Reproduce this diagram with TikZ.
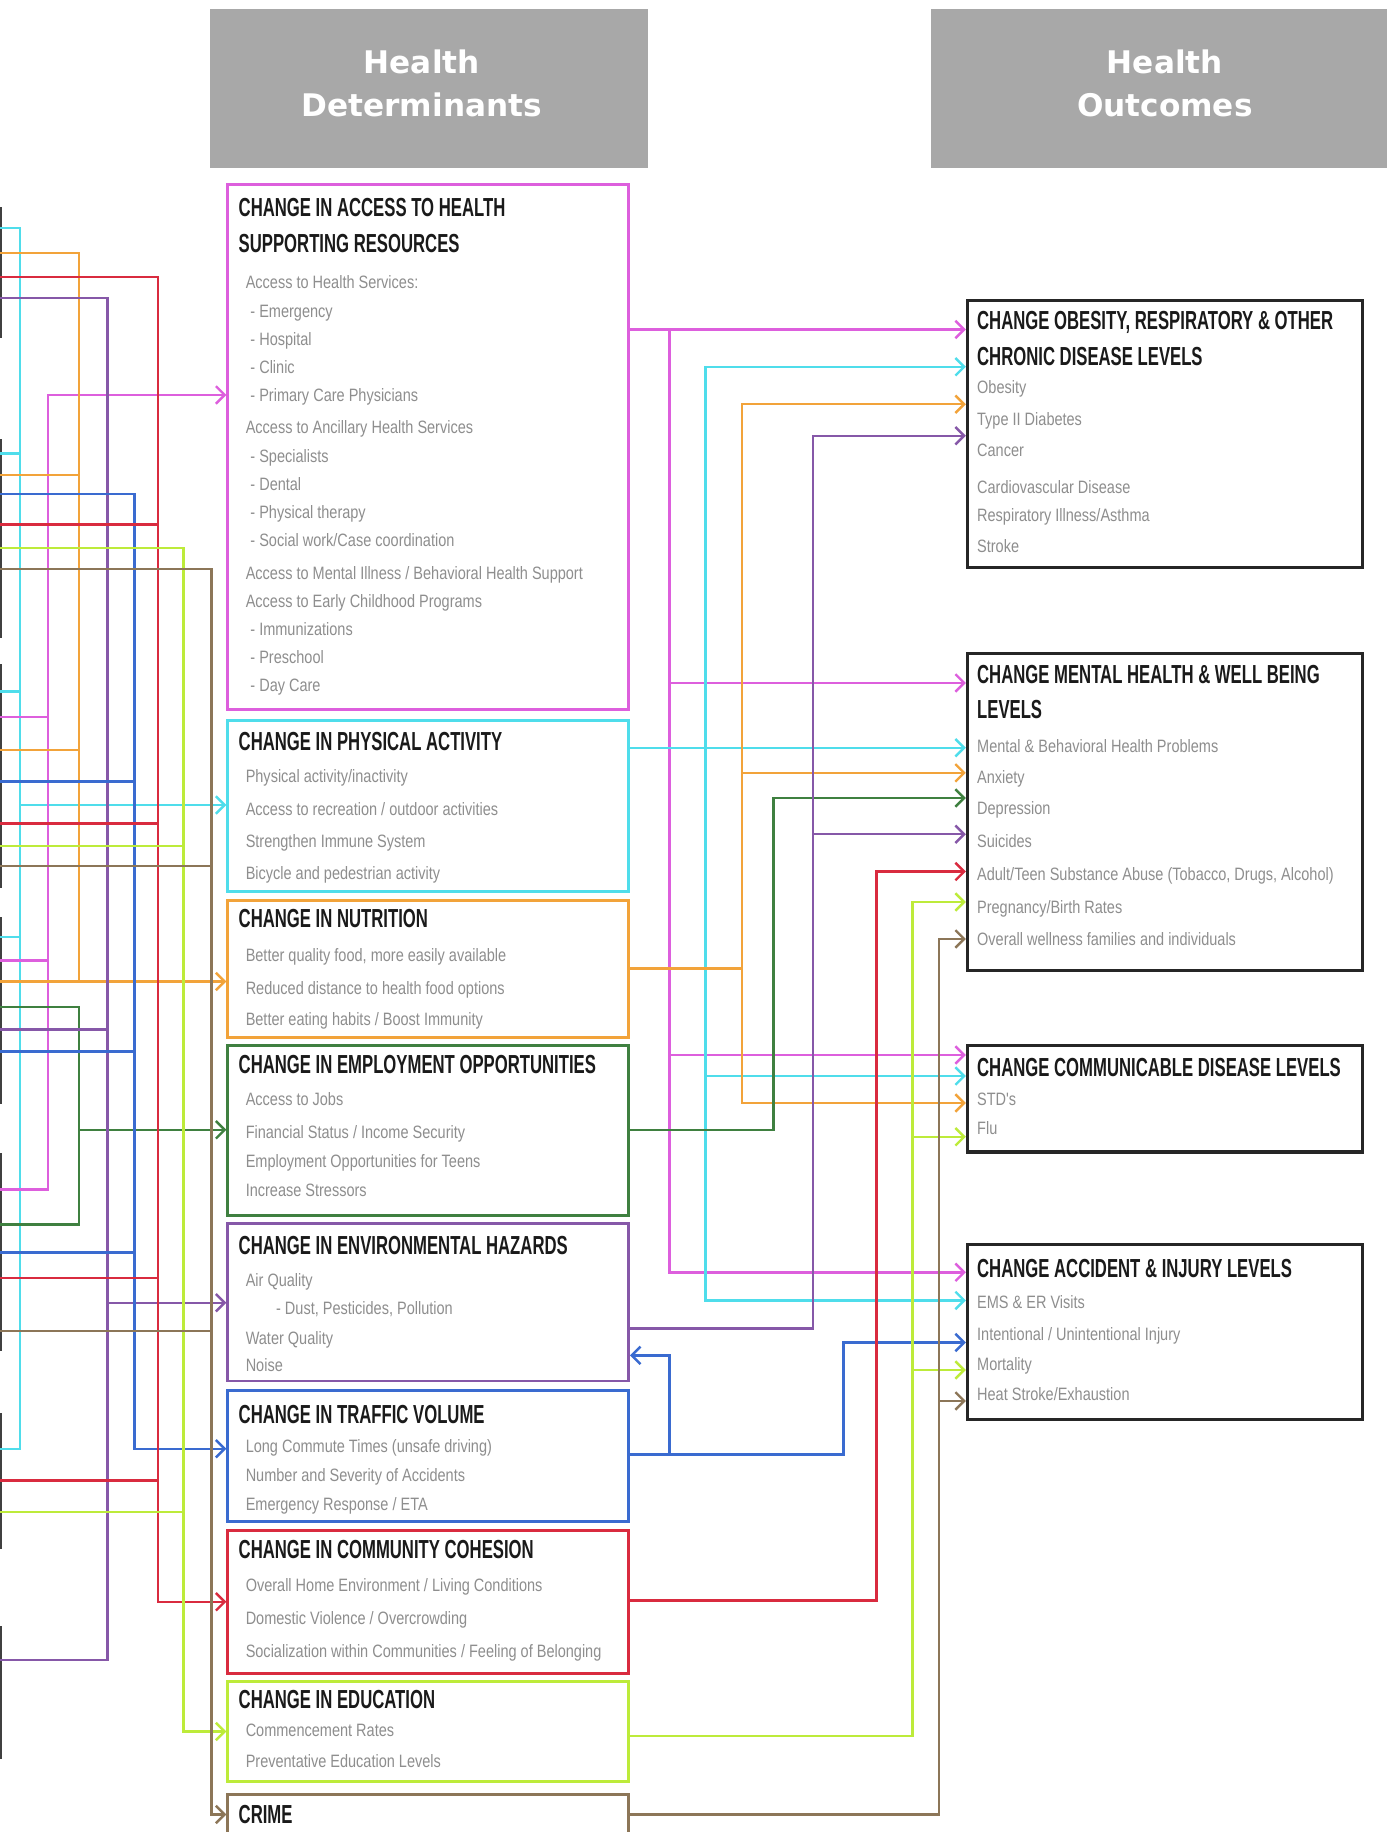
\documentclass[tikz,border=0pt]{standalone}
\usepackage{fontspec}
\setmainfont{Liberation Sans}
\newfontfamily\hdrfont{DejaVu Sans}
\newfontfamily\ttlfont[FakeStretch=0.64]{Liberation Sans}
\newfontfamily\itmfont[FakeStretch=0.81]{Liberation Sans}
\usetikzlibrary{arrows.meta,fit}
\definecolor{pinkc}{HTML}{DD5FDD}
\definecolor{cyanc}{HTML}{4FDDEB}
\definecolor{orangec}{HTML}{F2A33A}
\definecolor{greenc}{HTML}{3F8040}
\definecolor{purplec}{HTML}{8658A8}
\definecolor{bluec}{HTML}{3A6BD0}
\definecolor{redc}{HTML}{D92B3F}
\definecolor{ygc}{HTML}{BDEB3A}
\definecolor{brownc}{HTML}{8C7658}
\definecolor{hdrc}{HTML}{A8A8A8}
\definecolor{ttlc}{HTML}{1A1A1A}
\definecolor{itmc}{HTML}{8E8E8E}
\begin{document}
\begin{tikzpicture}[x=0.6pt,y=-0.6pt,
  dbox/.style={draw=#1, line width=1.5pt, inner sep=0pt, minimum size=0pt},
  obox/.style={draw=black!85, line width=1.6pt, inner sep=0pt, minimum size=0pt},
  lbox/.style={draw=black!75, line width=1.1pt, inner sep=0pt, minimum size=0pt},
  hdr/.style={fill=hdrc, draw=none, inner sep=0pt, minimum size=0pt},
  hdrtxt/.style={font=\hdrfont\bfseries\fontsize{16}{22.2}\selectfont, text=white, align=center, inner sep=0pt},
  ttl/.style={font=\ttlfont\bfseries\fontsize{13.4}{14}\selectfont, text=ttlc, anchor=base west, inner sep=0pt},
  itm/.style={font=\itmfont\fontsize{9.2}{10}\selectfont, text=itmc, anchor=base west, inner sep=0pt},
  wire/.style={draw=#1, line width=1.25pt},
  arrowend/.style={-{Straight Barb[length=4.5pt,width=9pt]}},
]
\useasboundingbox (0,0) rectangle (1187,1568);
\fill[white] (0,0) rectangle (1187,1568);
\clip (0,0) rectangle (1187,1568);

% column headers
\node[hdr, fit={(180,8) (555,144)}] (hdet) {};
\node[hdr, fit={(797,8) (1200,144)}] (hout) {};
\node[hdrtxt] (hdet-t) at (361,71.5) {Health\\Determinants};
\node[hdrtxt] (hout-t) at (997,71.5) {Health\\Outcomes};

% boxes of the column further left (only their right edges show)
\foreach \ya/\yb [count=\k] in {178/288, 377/545, 569/759, 786/944, 988/1155, 1210/1325, 1393/1505}
  \node[lbox, fit={(-200,\ya) (0.9,\yb)}] (lb\k) {};

% determinant boxes
\node[dbox=pinkc,   fit={(195,158) (538,607)}]   (acc) {};
\node[dbox=cyanc,   fit={(195,617) (538,763)}]   (pa)  {};
\node[dbox=orangec, fit={(195,771) (538,888)}]   (nut) {};
\node[dbox=greenc,  fit={(195,895) (538,1040)}]  (emp) {};
\node[dbox=purplec, fit={(195,1047) (538,1182)}] (env) {};
\node[dbox=bluec,   fit={(195,1190) (538,1302)}] (trf) {};
\node[dbox=redc,    fit={(195,1310) (538,1432)}] (com) {};
\node[dbox=ygc,     fit={(195,1439) (538,1525)}] (edu) {};
\node[dbox=brownc,  fit={(195,1536) (538,1620)}] (crm) {};

% outcome boxes
\node[obox, fit={(828,257) (1166,486)}]  (ob1) {};
\node[obox, fit={(828,559) (1166,831)}]  (ob2) {};
\node[obox, fit={(828,895) (1166,986)}]  (ob3) {};
\node[obox, fit={(828,1065) (1166,1215)}] (ob4) {};

% box titles
\foreach \xx/\yy/\txt [count=\k] in {
  204/177/{CHANGE IN ACCESS TO HEALTH}, 204/208/{SUPPORTING RESOURCES},
  204/634/{CHANGE IN PHYSICAL ACTIVITY},
  204/786/{CHANGE IN NUTRITION},
  204/911/{CHANGE IN EMPLOYMENT OPPORTUNITIES},
  204/1066/{CHANGE IN ENVIRONMENTAL HAZARDS},
  204/1210/{CHANGE IN TRAFFIC VOLUME},
  204/1326/{CHANGE IN COMMUNITY COHESION},
  204/1454/{CHANGE IN EDUCATION},
  204/1553/{CRIME},
  836/274/{CHANGE OBESITY, RESPIRATORY \& OTHER}, 836/305/{CHRONIC DISEASE LEVELS},
  836/577/{CHANGE MENTAL HEALTH \& WELL BEING}, 836/607/{LEVELS},
  836/913/{CHANGE COMMUNICABLE DISEASE LEVELS},
  836/1085/{CHANGE ACCIDENT \& INJURY LEVELS}}
  \node[ttl, name=ttl\k] at (\xx,\yy+8) {\txt};

% box items
\foreach \xx/\yy/\txt [count=\k] in {
  210/242/{Access to Health Services:},
  214/267/{- Emergency}, 214/291/{- Hospital}, 214/315/{- Clinic},
  214/339/{- Primary Care Physicians},
  210/366/{Access to Ancillary Health Services},
  214/391/{- Specialists}, 214/415/{- Dental}, 214/439/{- Physical therapy},
  214/463/{- Social work/Case coordination},
  210/491/{Access to Mental Illness / Behavioral Health Support},
  210/515/{Access to Early Childhood Programs},
  214/539/{- Immunizations}, 214/563/{- Preschool}, 214/587/{- Day Care},
  210/665/{Physical activity/inactivity},
  210/693/{Access to recreation / outdoor activities},
  210/720/{Strengthen Immune System},
  210/748/{Bicycle and pedestrian activity},
  210/818/{Better quality food, more easily available},
  210/846/{Reduced distance to health food options},
  210/873/{Better eating habits / Boost Immunity},
  210/941/{Access to Jobs},
  210/969/{Financial Status / Income Security},
  210/994/{Employment Opportunities for Teens},
  210/1019/{Increase Stressors},
  210/1096/{Air Quality},
  236/1120/{- Dust, Pesticides, Pollution},
  210/1146/{Water Quality},
  210/1169/{Noise},
  210/1238/{Long Commute Times (unsafe driving)},
  210/1263/{Number and Severity of Accidents},
  210/1288/{Emergency Response / ETA},
  210/1357/{Overall Home Environment / Living Conditions},
  210/1385/{Domestic Violence / Overcrowding},
  210/1414/{Socialization within Communities / Feeling of Belonging},
  210/1481/{Commencement Rates},
  210/1508/{Preventative Education Levels},
  836/332/{Obesity}, 836/359/{Type II Diabetes}, 836/386/{Cancer},
  836/417/{Cardiovascular Disease}, 836/441/{Respiratory Illness/Asthma},
  836/468/{Stroke},
  836/639/{Mental \& Behavioral Health Problems}, 836/666/{Anxiety},
  836/692/{Depression}, 836/720/{Suicides},
  836/749/{Adult/Teen Substance Abuse (Tobacco, Drugs, Alcohol)},
  836/777/{Pregnancy/Birth Rates},
  836/804/{Overall wellness families and individuals},
  836/941/{STD's}, 836/966/{Flu},
  836/1115/{EMS \& ER Visits}, 836/1142/{Intentional / Unintentional Injury},
  836/1168/{Mortality}, 836/1194/{Heat Stroke/Exhaustion}}
  \node[itm, name=itm\k] at (\xx,\yy+5) {\txt};

% ---- feeds arriving from the left column ----
\coordinate (edge) at (0,0);
% physical activity
\draw[wire=cyanc] (edge |- 0,195) -| (17,1240) -- (edge |- 0,1240);
\foreach \yy in {388,592,802} \draw[wire=cyanc] (edge |- 0,\yy) -- (17,\yy);
\draw[wire=cyanc, arrowend] (17,689) -- (pa.west |- 0,689);
% access to resources
\draw[wire=pinkc, arrowend] (edge |- 0,1018) -| (41,338) -- (acc.west |- 0,338);
\foreach \yy in {613.6,822} \draw[wire=pinkc] (edge |- 0,\yy) -- (41,\yy);
% nutrition
\draw[wire=orangec, arrowend] (edge |- 0,216.5) -| (67.5,840) -- (nut.west |- 0,840);
\foreach \yy in {406.5,642,840} \draw[wire=orangec] (edge |- 0,\yy) -- (67.5,\yy);
% employment
\draw[wire=greenc] (edge |- 0,862) -| (67.5,1048) -- (edge |- 0,1048);
\draw[wire=greenc, arrowend] (67.5,967) -- (emp.west |- 0,967);
% environmental hazards
\draw[wire=purplec] (edge |- 0,255) -| (92,1421) -- (edge |- 0,1421);
\draw[wire=purplec] (edge |- 0,881) -- (92,881);
\draw[wire=purplec, arrowend] (92,1115) -- (env.west |- 0,1115);
% traffic
\draw[wire=bluec, arrowend] (edge |- 0,423) -| (115,1240) -- (trf.west |- 0,1240);
\foreach \yy in {669,900,1072} \draw[wire=bluec] (edge |- 0,\yy) -- (115,\yy);
% community cohesion
\draw[wire=redc, arrowend] (edge |- 0,237) -| (135,1371) -- (com.west |- 0,1371);
\foreach \yy in {449,705,1094,1267} \draw[wire=redc] (edge |- 0,\yy) -- (135,\yy);
% education
\draw[wire=ygc, arrowend] (edge |- 0,469) -| (157,1482) -- (edu.west |- 0,1482);
\foreach \yy in {724,1294} \draw[wire=ygc] (edge |- 0,\yy) -- (157,\yy);
% crime
\draw[wire=brownc, arrowend] (edge |- 0,487) -| (181,1553) -- (crm.west |- 0,1553);
\foreach \yy in {741,1139} \draw[wire=brownc] (edge |- 0,\yy) -- (181,\yy);

% ---- determinants to outcomes ----
% access to resources
\draw[wire=pinkc, arrowend] (acc.east |- 0,282) -- (ob1.west |- 0,282);
\draw[wire=pinkc, arrowend] (573,282) |- (ob4.west |- 0,1089);
\draw[wire=pinkc, arrowend] (573,584.5) -- (ob2.west |- 0,584.5);
\draw[wire=pinkc, arrowend] (573,903) -- (ob3.west |- 0,903);
% physical activity
\draw[wire=cyanc, arrowend] (pa.east |- 0,640) -- (ob2.west |- 0,640);
\draw[wire=cyanc, arrowend] (604,640) |- (ob1.west |- 0,314);
\draw[wire=cyanc, arrowend] (604,640) |- (ob4.west |- 0,1113);
\draw[wire=cyanc, arrowend] (604,921) -- (ob3.west |- 0,921);
% nutrition
\draw[wire=orangec] (nut.east |- 0,829) -- (635,829);
\draw[wire=orangec, arrowend] (635,829) |- (ob1.west |- 0,346);
\draw[wire=orangec, arrowend] (635,829) |- (ob3.west |- 0,944);
\draw[wire=orangec, arrowend] (635,661.5) -- (ob2.west |- 0,661.5);
% employment
\draw[wire=greenc, arrowend] (emp.east |- 0,967) -| (662,683) -- (ob2.west |- 0,683);
% environmental hazards
\draw[wire=purplec, arrowend] (env.east |- 0,1137) -| (696,373) -- (ob1.west |- 0,373);
\draw[wire=purplec, arrowend] (696,714) -- (ob2.west |- 0,714);
% traffic
\draw[wire=bluec, arrowend] (trf.east |- 0,1245) -| (722,1149) -- (ob4.west |- 0,1149);
\draw[wire=bluec, arrowend] (573,1245) |- (env.east |- 0,1160);
% community cohesion
\draw[wire=redc, arrowend] (com.east |- 0,1370) -| (750,746) -- (ob2.west |- 0,746);
% education
\draw[wire=ygc, arrowend] (edu.east |- 0,1486) -| (781,772) -- (ob2.west |- 0,772);
\draw[wire=ygc, arrowend] (781,973) -- (ob3.west |- 0,973);
\draw[wire=ygc, arrowend] (781,1172.6) -- (ob4.west |- 0,1172.6);
% crime
\draw[wire=brownc, arrowend] (crm.east |- 0,1553) -| (803.6,803.6) -- (ob2.west |- 0,803.6);
\draw[wire=brownc, arrowend] (803.6,1199) -- (ob4.west |- 0,1199);
\end{tikzpicture}
\end{document}
